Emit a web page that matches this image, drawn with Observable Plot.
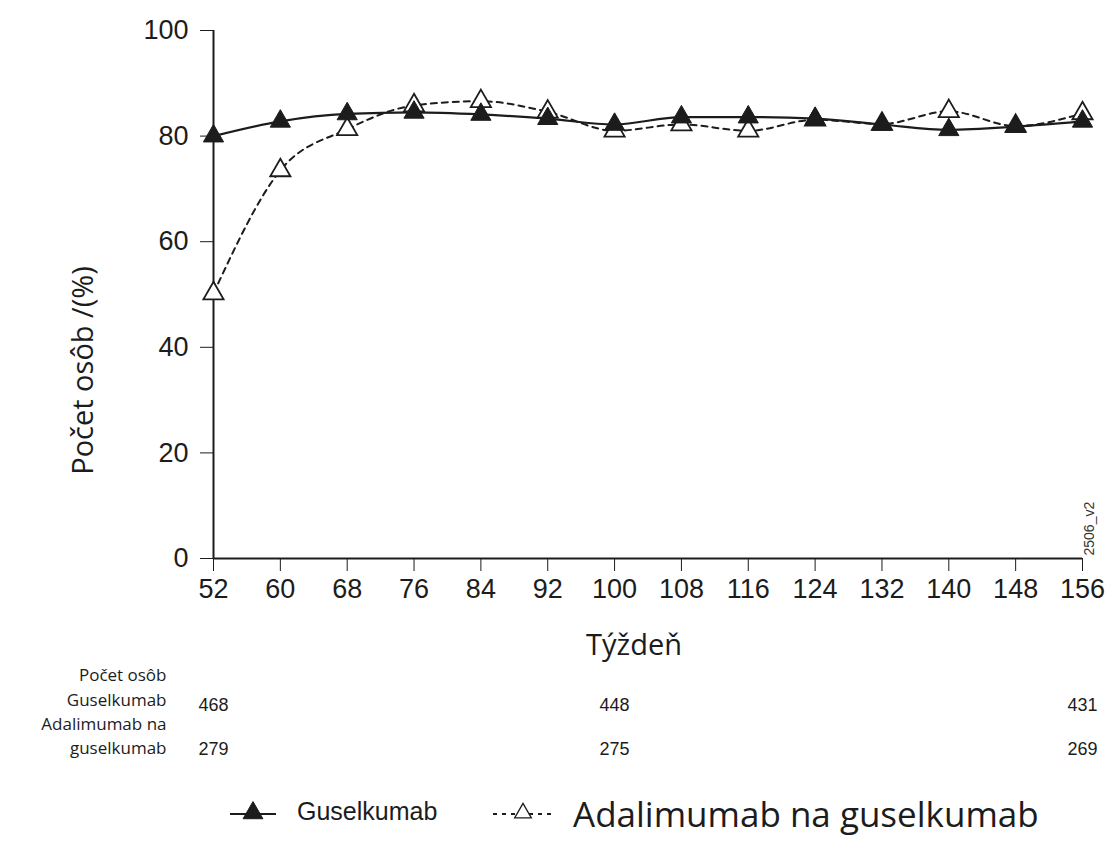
<!DOCTYPE html>
<html>
<head>
<meta charset="utf-8">
<script src="https://cdn.jsdelivr.net/npm/d3@7"></script>
<script src="https://cdn.jsdelivr.net/npm/@observablehq/plot@0.6"></script>
<style>
  html, body { margin: 0; padding: 0; background: #fff; }
  #wrap { position: relative; width: 1110px; height: 847px; overflow: hidden; }
  #wrap > svg { position: absolute; left: 0; top: 0; }
  .leg { position: absolute; white-space: nowrap; color: #1c1c1c; line-height: 1; }
</style>
</head>
<body>
<div id="wrap"></div>
<script>
// ---- data ----
const weeks = [52, 60, 68, 76, 84, 92, 100, 108, 116, 124, 132, 140, 148, 156];
const guselkumab = [80, 82.8, 84.2, 84.5, 84.1, 83.3, 82.2, 83.6, 83.6, 83.3, 82.2, 81.2, 81.8, 82.8];
const adalimumab = [50.2, 73.5, 81.3, 85.8, 86.6, 84.6, 81, 82.2, 81, 83.1, 82.3, 84.7, 81.9, 84.3];
const xTicks = [52, 60, 68, 76, 84, 92, 100, 108, 116, 124, 132, 140, 148, 156];
const yTicks = [0, 20, 40, 60, 80, 100];
const countWeeks = [52, 100, 156];
const guselkumabCounts = [468, 448, 431];
const adalimumabCounts = [279, 275, 269];
const rowLabels = ["Počet osôb", "Guselkumab", "Adalimumab na", "guselkumab"];
const seriesNames = ["Guselkumab", "Adalimumab na guselkumab"];
const xTitle = "Týždeň";
const yTitle = "Počet osôb /(%)";
const figureId = "2506_v2";

const gData = weeks.map((w, i) => ({week: w, value: guselkumab[i]}));
const aData = weeks.map((w, i) => ({week: w, value: adalimumab[i]}));
const gCountData = countWeeks.map((w, i) => ({week: w, n: guselkumabCounts[i]}));
const aCountData = countWeeks.map((w, i) => ({week: w, n: adalimumabCounts[i]}));
const rowOffsets = [122, 147, 171, 195];
const ink = "#1c1c1c";
const calibri = "'Open Sans', 'Noto Sans', sans-serif";
const arial = "'Liberation Sans', Arial, sans-serif";

const chart = Plot.plot({
  width: 1110,
  height: 770,
  marginLeft: 213,
  marginRight: 28,
  marginTop: 30,
  marginBottom: 212,
  style: {fontFamily: arial, fontSize: "27px", color: ink, background: "white", overflow: "visible"},
  x: {domain: [52, 156], ticks: xTicks, tickSize: 13, tickPadding: 7, label: null},
  y: {domain: [0, 100], ticks: yTicks, tickSize: 13, tickPadding: 12, label: null},
  marks: [
    Plot.ruleX([52], {stroke: ink, strokeWidth: 2}),
    Plot.ruleY([0], {stroke: ink, strokeWidth: 2}),
    Plot.lineY(aData, {x: "week", y: "value", stroke: ink, strokeWidth: 2, strokeDasharray: "6,5", curve: "monotone-x"}),
    Plot.lineY(gData, {x: "week", y: "value", stroke: ink, strokeWidth: 2.2, curve: "monotone-x"}),
    Plot.dot(aData, {x: "week", y: "value", symbol: "triangle", r: 7.5, fill: "white", stroke: ink, strokeWidth: 1.8}),
    Plot.dot(gData, {x: "week", y: "value", symbol: "triangle", r: 7.5, fill: ink, stroke: ink, strokeWidth: 1}),
    // axis titles
    Plot.text([yTitle], {text: d => d, frameAnchor: "left", textAnchor: "middle", rotate: -90, dx: -130, dy: 76, fontSize: 29, fontFamily: calibri, fill: ink}),
    Plot.text([xTitle], {text: d => d, frameAnchor: "bottom", textAnchor: "middle", dx: -14, dy: 96, fontSize: 29, fontFamily: calibri, fill: ink}),
    Plot.text([figureId], {text: d => d, frameAnchor: "bottom-right", rotate: -90, textAnchor: "start", dx: 11, dy: -3, fontSize: 14, fill: "#333"}),
    // number-at-risk table: row labels
    ...rowLabels.map((label, i) =>
      Plot.text([label], {text: d => d, frameAnchor: "bottom-left", textAnchor: "end", dx: -47, dy: rowOffsets[i], fontSize: 17, fontFamily: calibri, fill: ink})
    ),
    // counts
    Plot.text(gCountData, {x: "week", text: "n", frameAnchor: "bottom", textAnchor: "middle", dy: 152, fontSize: 18, fill: ink}),
    Plot.text(aCountData, {x: "week", text: "n", frameAnchor: "bottom", textAnchor: "middle", dy: 196, fontSize: 18, fill: ink})
  ]
});

const wrap = document.getElementById("wrap");
wrap.appendChild(chart);

// legend (below the svg)
function legendItem(left, symLeft, symWidth, dashed, filled, name, font, size, top, triSize) {
  const s = document.createElementNS("http://www.w3.org/2000/svg", "svg");
  s.setAttribute("width", symWidth);
  s.setAttribute("height", 24);
  s.style.position = "absolute";
  s.style.left = symLeft + "px";
  s.style.top = "801px";
  const ln = document.createElementNS("http://www.w3.org/2000/svg", "line");
  ln.setAttribute("x1", 0); ln.setAttribute("x2", symWidth);
  ln.setAttribute("y1", 13); ln.setAttribute("y2", 13);
  ln.setAttribute("stroke", ink); ln.setAttribute("stroke-width", 2);
  if (dashed) ln.setAttribute("stroke-dasharray", "4,5");
  s.appendChild(ln);
  const p = document.createElementNS("http://www.w3.org/2000/svg", "path");
  p.setAttribute("d", d3.symbol(d3.symbolTriangle, triSize)());
  p.setAttribute("transform", `translate(${symWidth / 2},12)`);
  p.setAttribute("fill", filled ? ink : "white");
  p.setAttribute("stroke", ink);
  p.setAttribute("stroke-width", filled ? 1 : 1.3);
  s.appendChild(p);
  wrap.appendChild(s);
  const t = document.createElement("div");
  t.className = "leg";
  t.textContent = name;
  t.style.left = left + "px";
  t.style.top = top + "px";
  t.style.fontFamily = font;
  t.style.fontSize = size + "px";
  wrap.appendChild(t);
}
legendItem(297, 230, 46, false, true, seriesNames[0], arial, 25, 799, 170);
legendItem(573, 493, 60, true, false, seriesNames[1], calibri, 35, 796, 120);
</script>
</body>
</html>
